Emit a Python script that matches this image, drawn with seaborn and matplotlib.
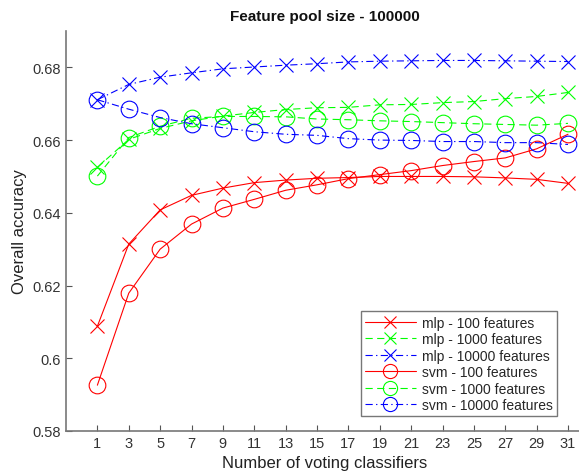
import numpy as np
import pandas as pd
import seaborn as sns
import matplotlib.pyplot as plt

# ── Data ───────────────────────────────────────────────────────────────────────
n_classifiers = [1, 3, 5, 7, 9, 11, 13, 15, 17, 19, 21, 23, 25, 27, 29, 31]

mlp_100 = [0.6088, 0.6314, 0.6408, 0.6448, 0.6468, 0.6483, 0.6490, 0.6495,
           0.6497, 0.6500, 0.6500, 0.6500, 0.6499, 0.6496, 0.6492, 0.6481]
mlp_1000 = [0.6525, 0.6602, 0.6632, 0.6653, 0.6666, 0.6676, 0.6684, 0.6689,
            0.6690, 0.6697, 0.6698, 0.6703, 0.6706, 0.6714, 0.6720, 0.6731]
mlp_10000 = [0.6711, 0.6753, 0.6773, 0.6785, 0.6796, 0.6801, 0.6806, 0.6810,
             0.6815, 0.6817, 0.6818, 0.6819, 0.6819, 0.6818, 0.6817, 0.6816]
svm_100 = [0.5926, 0.6179, 0.6300, 0.6369, 0.6413, 0.6437, 0.6462, 0.6477,
           0.6494, 0.6505, 0.6516, 0.6530, 0.6541, 0.6551, 0.6576, 0.6616]
svm_1000 = [0.6501, 0.6607, 0.6638, 0.6660, 0.6665, 0.6665, 0.6664, 0.6658,
            0.6656, 0.6653, 0.6651, 0.6648, 0.6645, 0.6643, 0.6641, 0.6646]
svm_10000 = [0.6711, 0.6685, 0.6662, 0.6645, 0.6634, 0.6623, 0.6616, 0.6613,
             0.6604, 0.6600, 0.6599, 0.6596, 0.6596, 0.6593, 0.6593, 0.6588]

# matlab-like dash patterns (in units of linewidth)
solid = "-"
dashed = (0, (6.5, 4))
dashdot = (0, (6.5, 3, 1.2, 3))

series = [
    ("mlp - 100 features", mlp_100, "#ff0000", solid, "x"),
    ("mlp - 1000 features", mlp_1000, "#00ff00", dashed, "x"),
    ("mlp - 10000 features", mlp_10000, "#0000ff", dashdot, "x"),
    ("svm - 100 features", svm_100, "#ff0000", solid, "o"),
    ("svm - 1000 features", svm_1000, "#00ff00", dashed, "o"),
    ("svm - 10000 features", svm_10000, "#0000ff", dashdot, "o"),
]

# ── Plot ───────────────────────────────────────────────────────────────────────
sns.set_theme(style="white")
plt.rcParams["font.family"] = ["Liberation Sans", "DejaVu Sans"]

fig = plt.figure(figsize=(5.79, 4.77), dpi=100)
ax = fig.add_axes([66 / 579, 45 / 477, 517.7 / 579, 400 / 477])

for label, vals, color, ls, marker in series:
    df = pd.DataFrame({"n": n_classifiers, "acc": vals})
    sns.lineplot(data=df, x="n", y="acc", ax=ax, color=color, linestyle=ls,
                 marker=marker, markersize=12 if marker == "o" else 10,
                 markerfacecolor="none", markeredgecolor=color,
                 markeredgewidth=0.8, linewidth=0.8, label=label)

ax.set_xlim(-1, 32)
ax.set_ylim(0.58, 0.69)
ax.set_xticks(n_classifiers)
ax.set_yticks([0.58, 0.60, 0.62, 0.64, 0.66, 0.68])
ax.set_yticklabels(["0.58", "0.6", "0.62", "0.64", "0.66", "0.68"])

for side in ["top", "right"]:
    ax.spines[side].set_visible(False)
for side in ["left", "bottom"]:
    ax.spines[side].set_color("#777777")
    ax.spines[side].set_linewidth(1.2)

ax.tick_params(direction="in", length=4, width=0.8, color="#555555",
               labelcolor="#333333", labelsize=10.5, left=True, bottom=True)

ax.set_xlabel("Number of voting classifiers", fontsize=12, color="#222222", labelpad=4)
ax.set_ylabel("Overall accuracy", fontsize=12, color="#222222", labelpad=4)
fig.text(325 / 579, 1 - 17 / 477, "Feature pool size - 100000", ha="center",
         va="center", fontsize=11, fontweight="bold", color="#111111")

leg = ax.legend(loc="lower right", bbox_to_anchor=(0.948, 0.037), fontsize=10,
                frameon=True, fancybox=False, edgecolor="#555555",
                handlelength=3.7, handletextpad=0.4, borderpad=0.3,
                labelspacing=0.18, borderaxespad=0, markerscale=0.85)
leg.get_frame().set_linewidth(1.0)

fig.savefig("out.png", dpi=100, facecolor="white")
